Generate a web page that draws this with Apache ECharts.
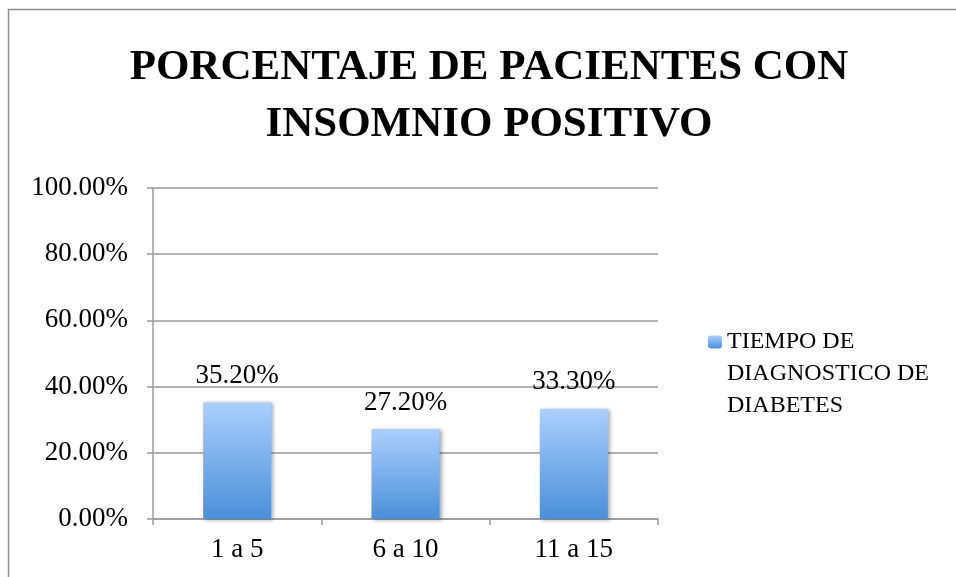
<!DOCTYPE html>
<html>
<head>
<meta charset="utf-8">
<script src="https://cdn.jsdelivr.net/npm/echarts@6/dist/echarts.min.js"></script>
<style>
  html, body { margin: 0; padding: 0; background: #fff; }
  #chart { width: 956px; height: 577px; }
</style>
</head>
<body>
<div id="chart"></div>
<script>
  // datos
  var categorias = ['1 a 5', '6 a 10', '11 a 15'];
  var porcentajes = [35.2, 27.2, 33.3];
  var serieNombre = 'TIEMPO DE\nDIAGNOSTICO DE\nDIABETES';
  var titulo = 'PORCENTAJE DE PACIENTES CON\nINSOMNIO POSITIVO';
  var yMax = 100;
  var yPaso = 20;

  var fuente = 'Liberation Serif';
  var gris = '#9a9a9a';

  var chart = echarts.init(document.getElementById('chart'));
  chart.setOption({
    backgroundColor: '#fff',
    animation: false,
    textStyle: { fontFamily: fuente },
    graphic: [{
      type: 'rect',
      shape: { x: 8.5, y: 9.5, width: 1000, height: 1000 },
      style: { fill: 'none', stroke: '#8e8e8e', lineWidth: 1.5 },
      silent: true
    }],
    title: {
      text: titulo,
      left: 484,
      top: 34,
      textAlign: 'center',
      textStyle: {
        fontFamily: fuente,
        fontSize: 43,
        fontWeight: 'bold',
        lineHeight: 57,
        color: '#000'
      }
    },
    legend: {
      left: 708,
      top: 262,
      padding: 0,
      itemWidth: 14,
      itemHeight: 13,
      itemGap: 0,
      data: [serieNombre],
      // dos lineas vacias para que la primera linea quede junto al icono
      formatter: function (n) { return '\n\n' + n; },
      textStyle: {
        fontFamily: fuente,
        fontSize: 24,
        lineHeight: 32,
        color: '#000'
      }
    },
    grid: {
      left: 153,
      right: 298,
      top: 188,
      bottom: 58,
      containLabel: false
    },
    xAxis: {
      type: 'category',
      data: categorias,
      axisLine: { lineStyle: { color: gris, width: 1.5 } },
      axisTick: { show: true, length: 6, alignWithLabel: false, lineStyle: { color: gris, width: 1.5 } },
      axisLabel: { fontFamily: fuente, fontSize: 27, color: '#000', margin: 17 }
    },
    yAxis: {
      type: 'value',
      min: 0,
      max: yMax,
      interval: yPaso,
      axisLine: { show: true, lineStyle: { color: gris, width: 1.5 } },
      axisTick: { show: true, length: 6, lineStyle: { color: gris, width: 1.5 } },
      splitLine: { show: true, lineStyle: { color: gris, width: 1.5 } },
      axisLabel: {
        fontFamily: fuente,
        fontSize: 27,
        color: '#000',
        margin: 25,
        formatter: function (v) { return v.toFixed(2) + '%'; }
      }
    },
    series: [{
      name: serieNombre,
      type: 'bar',
      data: porcentajes,
      barWidth: 68,
      itemStyle: {
        color: new echarts.graphic.LinearGradient(0, 0, 0, 1, [
          { offset: 0, color: '#abcffd' },
          { offset: 1, color: '#4a8fd9' }
        ]),
        shadowColor: 'rgba(0,0,0,0.35)',
        shadowBlur: 4,
        shadowOffsetX: 2,
        shadowOffsetY: 1
      },
      label: {
        show: true,
        position: 'top',
        distance: 13,
        fontFamily: fuente,
        fontSize: 27,
        color: '#000',
        formatter: function (p) { return p.value.toFixed(2) + '%'; }
      }
    }]
  });
</script>
</body>
</html>
